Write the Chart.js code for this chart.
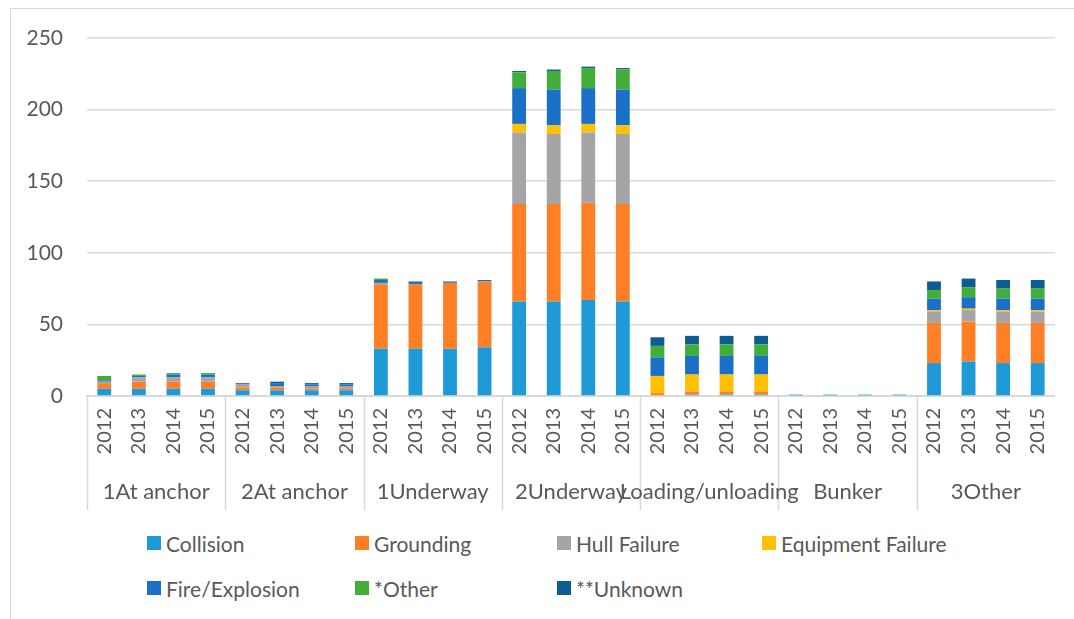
<!DOCTYPE html>
<html lang="en">
<head>
  <meta charset="UTF-8" />
  <title>Incidents by operation and year</title>
  <script src="https://cdn.jsdelivr.net/npm/chart.js"></script>
  <style>
    html, body {
      margin: 0;
      padding: 0;
      background: #ffffff;
      overflow: hidden;
      font-family: 'Lato', sans-serif;
    }

    .frame {
      position: absolute;
      left: 10px;
      top: 8px;
      width: 1100px;
      height: 700px;
      border: 1px solid #d9d9d9;
    }

    #chart {
      position: absolute;
      left: 11px;
      top: 9px;
    }

    .legend {
      position: absolute;
      left: 147px;
      top: 529px;
      display: grid;
      grid-template-columns: 208px 202px 205px 260px;
      row-gap: 17px;
      color: #595959;
      font-size: 21px;
    }

    .legend span {
      display: flex;
      align-items: center;
      height: 28px;
      white-space: nowrap;
    }

    .legend i {
      display: inline-block;
      width: 14px;
      height: 14px;
      margin-right: 5px;
    }
  </style>
</head>
<body>

<div class="frame"></div>
<canvas id="chart" width="1063" height="511"></canvas>
<div class="legend" id="legend"></div>

<script>
  // Categories
  const groups = ['1At anchor', '2At anchor', '1Underway', '2Underway', 'Loading/unloading', 'Bunker', '3Other'];
  const years = ['2012', '2013', '2014', '2015'];

  // Series values, 4 years per group, groups in order above
  const collision = [5, 5, 5, 5,   4, 4, 4, 4,   33, 33, 33, 34,   66, 66, 67, 66,   0, 1, 1, 1,      1, 1, 1, 1,   23, 24, 23, 23];
  const grounding = [4, 5, 5, 5,   2, 2, 1, 1,   45, 45, 46, 46,   68, 68, 68, 68,   2, 2, 2, 2,      0, 0, 0, 0,   28, 28, 28, 28];
  const hullFailure = [1, 3, 3, 3, 2, 1, 2, 2,   1, 0, 0, 0,       50, 49, 49, 49,   0, 0, 0, 0,      0, 0, 0, 0,   8, 8, 8, 8];
  const equipmentFailure = [0, 0, 0, 0, 0, 0, 0, 0, 0, 0, 0, 0,    6, 6, 6, 6,       12, 12, 12, 12,  0, 0, 0, 0,   1, 1, 1, 1];
  const fireExplosion = [1, 1, 2, 2, 1, 2, 1, 1, 2, 2, 1, 1,      25, 25, 25, 25,   13, 13, 13, 13,  0, 0, 0, 0,   8, 8, 8, 8];
  const otherCause = [3, 1, 1, 1,  0, 0, 0, 0,   1, 0, 0, 0,       11, 13, 14, 14,   8, 8, 8, 8,      0, 0, 0, 0,   6, 7, 7, 7];
  const unknownCause = [0, 0, 0, 0, 0, 1, 1, 1, 0, 0, 0, 0,       1, 1, 1, 1,       6, 6, 6, 6,      0, 0, 0, 0,   6, 6, 6, 6];

  // Y axis ticks
  const yTicks = [0, 50, 100, 150, 200, 250];

  const seriesNames = ['Collision', 'Grounding', 'Hull Failure', 'Equipment Failure', 'Fire/Explosion', '*Other', '**Unknown'];
  const seriesValues = [collision, grounding, hullFailure, equipmentFailure, fireExplosion, otherCause, unknownCause];
  const seriesColors = ['#1e9bd7', '#fe7f26', '#a5a5a5', '#ffc000', '#1a6fc7', '#43ad3a', '#0d5c94'];

  const labels = [];
  groups.forEach(() => years.forEach(y => labels.push(y)));

  const gridColor = '#d9d9d9';
  const textColor = '#595959';

  // Separators and group names under the year labels
  const groupAxis = {
    id: 'groupAxis',
    afterDraw(chart) {
      const ctx = chart.ctx;
      const x = chart.scales.x;
      const bottom = chart.chartArea.bottom;
      const step = (x.right - x.left) / groups.length;
      ctx.save();
      ctx.strokeStyle = gridColor;
      ctx.lineWidth = 1.5;
      for (let k = 0; k < groups.length; k++) {
        const px = Math.round(x.left + k * step) + 0.5;
        ctx.beginPath();
        ctx.moveTo(px, bottom);
        ctx.lineTo(px, bottom + 114);
        ctx.stroke();
      }
      ctx.fillStyle = textColor;
      ctx.font = '22px Lato, sans-serif';
      ctx.textAlign = 'center';
      ctx.textBaseline = 'middle';
      groups.forEach((g, k) => {
        ctx.fillText(g, x.left + (k + 0.5) * step, bottom + 96);
      });
      ctx.restore();
    }
  };

  new Chart(document.getElementById('chart').getContext('2d'), {
    type: 'bar',
    data: {
      labels: labels,
      datasets: seriesNames.map((name, i) => ({
        label: name,
        data: seriesValues[i],
        backgroundColor: seriesColors[i],
        categoryPercentage: 0.8,
        barPercentage: 0.5
      }))
    },
    options: {
      responsive: false,
      animation: false,
      devicePixelRatio: 1,
      layout: { padding: { top: 29, right: 17, left: 0, bottom: 0 } },
      plugins: {
        legend: { display: false },
        tooltip: { enabled: false }
      },
      scales: {
        x: {
          stacked: true,
          grid: { display: true, drawOnChartArea: false, drawTicks: false, color: 'rgba(0,0,0,0)' },
          border: { display: true, color: gridColor, width: 2 },
          ticks: {
            autoSkip: false,
            maxRotation: 90,
            minRotation: 90,
            padding: 12,
            color: textColor,
            font: { family: 'Lato', size: 20 }
          },
          afterFit(scale) { scale.height = 124; }
        },
        y: {
          stacked: true,
          min: 0,
          max: 250,
          afterBuildTicks(scale) { scale.ticks = yTicks.map(v => ({ value: v })); },
          grid: { color: gridColor, lineWidth: 1.5, drawTicks: false },
          border: { display: false },
          ticks: {
            padding: 24,
            color: textColor,
            font: { family: 'Lato', size: 21 }
          },
          afterFit(scale) {
            scale.width = 76;
            scale.paddingTop = 0;
          }
        }
      }
    },
    plugins: [groupAxis]
  });

  // Legend in a fixed grid, like the original
  const legend = document.getElementById('legend');
  seriesNames.forEach((name, i) => {
    const item = document.createElement('span');
    item.innerHTML = '<i style="background:' + seriesColors[i] + '"></i>' + name;
    legend.appendChild(item);
  });
</script>

</body>
</html>
